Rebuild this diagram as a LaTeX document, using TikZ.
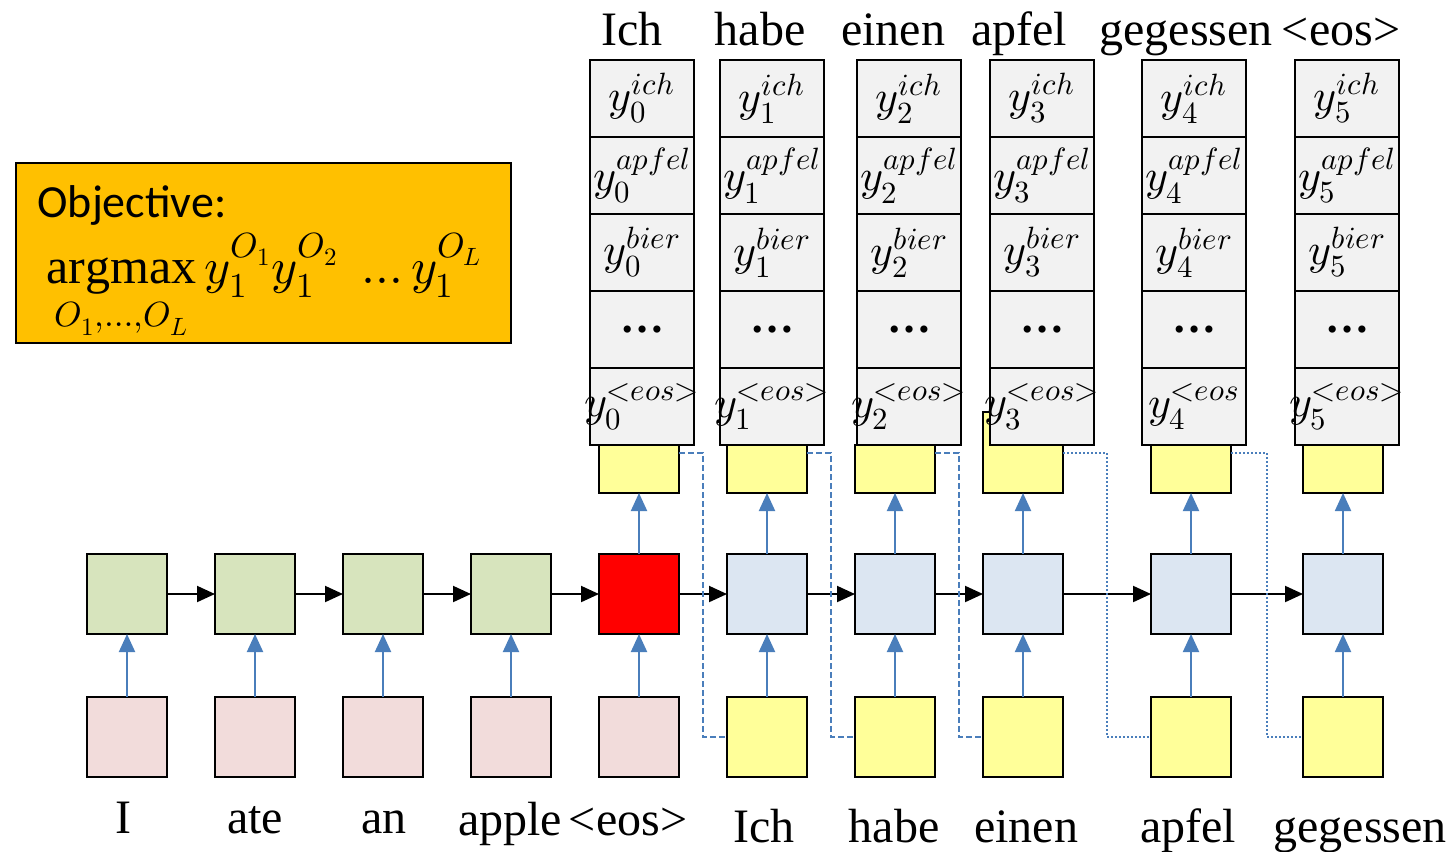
\documentclass[tikz,border=0pt]{standalone}
\usepackage{amsmath}
\usepackage{fontspec}
\usepackage{unicode-math}
\setmainfont{Liberation Serif}
\setmathfont{Latin Modern Math}
\newfontfamily\objfont{Carlito}
\usetikzlibrary{arrows.meta,positioning}
\usepackage{xcolor}
\definecolor{encgreen}{HTML}{D7E4BD}
\definecolor{srcpink}{HTML}{F2DCDB}
\definecolor{decblue}{HTML}{DCE6F2}
\definecolor{tokyellow}{HTML}{FFFF99}
\definecolor{cellgray}{HTML}{F2F2F2}
\definecolor{arrowblue}{HTML}{4A7EBB}
\definecolor{objorange}{HTML}{FFC000}

\begin{document}
\begin{tikzpicture}[x=0.5pt, y=-0.5pt,
  rnnbox/.style={draw, rectangle, line width=1.2pt, minimum width=40pt, minimum height=40pt, inner sep=0pt, outer sep=0pt},
  enc/.style={rnnbox, fill=encgreen},
  src/.style={rnnbox, fill=srcpink},
  dec/.style={rnnbox, fill=decblue},
  tok/.style={rnnbox, fill=tokyellow},
  outbox/.style={rnnbox, fill=tokyellow, minimum height=24pt},
  cell/.style={draw, rectangle, line width=1.2pt, fill=cellgray, minimum width=52pt, minimum height=38.5pt, inner sep=0pt, outer sep=0pt, font=\fontsize{22}{26}\selectfont},
  word/.style={anchor=base, inner sep=0pt, font=\fontsize{24}{28}\selectfont},
  uparrow/.style={draw=arrowblue, line width=1pt, -{Triangle[width=8pt, length=9pt]}},
  hop/.style={line width=1pt, -{Triangle[width=8pt, length=9pt]}},
  feed/.style={draw=arrowblue, line width=1pt, dash pattern=on 3pt off 1.5pt},
  feeddot/.style={draw=arrowblue, line width=1pt, dash pattern=on 1pt off 1pt}]
  \useasboundingbox (0,0) rectangle (1454,851);

  \node[draw, rectangle, line width=1pt, fill=objorange, minimum width=247.5pt, minimum height=90pt, inner sep=0pt] (objbox) at (263.5,253) {};
  \node[anchor=base west, inner sep=0pt, font=\objfont\fontsize{23}{27}\selectfont] (objtitle) at (37,217) {Objective:};
  \node[anchor=base west, inner sep=0pt, font=\fontsize{25}{30}\selectfont] (objformula) at (46,283) {$\displaystyle\operatorname*{argmax}_{O_1,\ldots,O_L} y_1^{O_1} y_1^{O_2}\;\ldots y_1^{O_L}$};

  \node[enc] (enc1) at (127,594) {};
  \node[enc, right=24pt of enc1] (enc2) {};
  \node[enc, right=24pt of enc2] (enc3) {};
  \node[enc, right=24pt of enc3] (enc4) {};
  \node[rnnbox, fill=red, right=24pt of enc4] (encend) {};
  \node[dec, right=24pt of encend] (dec1) {};
  \node[dec, right=24pt of dec1] (dec2) {};
  \node[dec, right=24pt of dec2] (dec3) {};
  \node[dec, right=44pt of dec3] (dec4) {};
  \node[dec, right=36pt of dec4] (dec5) {};

  \node[src, below=31.5pt of enc1] (src1) {};
  \node[src, below=31.5pt of enc2] (src2) {};
  \node[src, below=31.5pt of enc3] (src3) {};
  \node[src, below=31.5pt of enc4] (src4) {};
  \node[src, below=31.5pt of encend] (src5) {};
  \node[tok, below=31.5pt of dec1] (tok1) {};
  \node[tok, below=31.5pt of dec2] (tok2) {};
  \node[tok, below=31.5pt of dec3] (tok3) {};
  \node[tok, below=31.5pt of dec4] (tok4) {};
  \node[tok, below=31.5pt of dec5] (tok5) {};

  \node[outbox, above=30.5pt of encend] (out0) {};
  \node[outbox, above=30.5pt of dec1] (out1) {};
  \node[outbox, above=30.5pt of dec2] (out2) {};
  \node[outbox, minimum height=40.5pt, above=30.5pt of dec3] (out3) {};
  \node[outbox, above=30.5pt of dec4] (out4) {};
  \node[outbox, above=30.5pt of dec5] (out5) {};

  \node[cell] (ich0) at (642,98.5) {$y_0^{ich}$};
  \node[cell, below=0pt of ich0] (apfel0) {\makebox[0pt]{$y_0^{apfel}$}};
  \node[cell, below=0pt of apfel0] (bier0) {$y_0^{bier}$};
  \node[cell, below=0pt of bier0] (dots0) {\textbf{\dots}};
  \node[cell, below=0pt of dots0] (eos0) {\makebox[0pt]{$y_0^{<eos>}$}};

  \node[cell] (ich1) at (772,98.5) {$y_1^{ich}$};
  \node[cell, below=0pt of ich1] (apfel1) {\makebox[0pt]{$y_1^{apfel}$}};
  \node[cell, below=0pt of apfel1] (bier1) {$y_1^{bier}$};
  \node[cell, below=0pt of bier1] (dots1) {\textbf{\dots}};
  \node[cell, below=0pt of dots1] (eos1) {\makebox[0pt]{$y_1^{<eos>}$}};

  \node[cell] (ich2) at (909,98.5) {$y_2^{ich}$};
  \node[cell, below=0pt of ich2] (apfel2) {\makebox[0pt]{$y_2^{apfel}$}};
  \node[cell, below=0pt of apfel2] (bier2) {$y_2^{bier}$};
  \node[cell, below=0pt of bier2] (dots2) {\textbf{\dots}};
  \node[cell, below=0pt of dots2] (eos2) {\makebox[0pt]{$y_2^{<eos>}$}};

  \node[cell] (ich3) at (1042,98.5) {$y_3^{ich}$};
  \node[cell, below=0pt of ich3] (apfel3) {\makebox[0pt]{$y_3^{apfel}$}};
  \node[cell, below=0pt of apfel3] (bier3) {$y_3^{bier}$};
  \node[cell, below=0pt of bier3] (dots3) {\textbf{\dots}};
  \node[cell, below=0pt of dots3] (eos3) {\makebox[0pt]{$y_3^{<eos>}$}};

  \node[cell] (ich4) at (1194,98.5) {$y_4^{ich}$};
  \node[cell, below=0pt of ich4] (apfel4) {\makebox[0pt]{$y_4^{apfel}$}};
  \node[cell, below=0pt of apfel4] (bier4) {$y_4^{bier}$};
  \node[cell, below=0pt of bier4] (dots4) {\textbf{\dots}};
  \node[cell, below=0pt of dots4] (eos4) {\makebox[0pt]{$y_4^{<eos}$}};

  \node[cell] (ich5) at (1347,98.5) {$y_5^{ich}$};
  \node[cell, below=0pt of ich5] (apfel5) {\makebox[0pt]{$y_5^{apfel}$}};
  \node[cell, below=0pt of apfel5] (bier5) {$y_5^{bier}$};
  \node[cell, below=0pt of bier5] (dots5) {\textbf{\dots}};
  \node[cell, below=0pt of dots5] (eos5) {\makebox[0pt]{$y_5^{<eos>}$}};

  \node[word] (top-ich) at (632,45) {Ich};
  \node[word] (top-habe) at (760,45) {habe};
  \node[word] (top-einen) at (893,45) {einen};
  \node[word] (top-apfel) at (1019,45) {apfel};
  \node[word] (top-gegessen) at (1186,45) {gegessen};
  \node[word] (top-eos) at (1341,45) {<eos>};

  \node[word] (lbl-i) at (123,833) {I};
  \node[word] (lbl-ate) at (255,833) {ate};
  \node[word] (lbl-an) at (384,833) {an};
  \node[word] (lbl-apple) at (510,835) {apple};
  \node[word] (lbl-eos) at (628,835) {<eos>};
  \node[word] (lbl-ich) at (764,842) {Ich};
  \node[word] (lbl-habe) at (894,842) {habe};
  \node[word] (lbl-einen) at (1026,842) {einen};
  \node[word] (lbl-apfel) at (1188,842) {apfel};
  \node[word] (lbl-gegessen) at (1360,842) {gegessen};

  \draw[hop] (enc1) -- (enc2);
  \draw[hop] (enc2) -- (enc3);
  \draw[hop] (enc3) -- (enc4);
  \draw[hop] (enc4) -- (encend);
  \draw[hop] (encend) -- (dec1);
  \draw[hop] (dec1) -- (dec2);
  \draw[hop] (dec2) -- (dec3);
  \draw[hop] (dec3) -- (dec4);
  \draw[hop] (dec4) -- (dec5);

  \draw[uparrow] (src1) -- (enc1);
  \draw[uparrow] (src2) -- (enc2);
  \draw[uparrow] (src3) -- (enc3);
  \draw[uparrow] (src4) -- (enc4);
  \draw[uparrow] (src5) -- (encend);
  \draw[uparrow] (tok1) -- (dec1);
  \draw[uparrow] (tok2) -- (dec2);
  \draw[uparrow] (tok3) -- (dec3);
  \draw[uparrow] (tok4) -- (dec4);
  \draw[uparrow] (tok5) -- (dec5);
  \draw[uparrow] (encend) -- (out0);
  \draw[uparrow] (dec1) -- (out1);
  \draw[uparrow] (dec2) -- (out2);
  \draw[uparrow] (dec3) -- (out3);
  \draw[uparrow] (dec4) -- (out4);
  \draw[uparrow] (dec5) -- (out5);

  \draw[feed] ([yshift=20pt]out0.south east) -| ([xshift=-12pt]tok1.west) -- (tok1.west);
  \draw[feed] ([yshift=20pt]out1.south east) -| ([xshift=-12pt]tok2.west) -- (tok2.west);
  \draw[feed] ([yshift=20pt]out2.south east) -| ([xshift=-12pt]tok3.west) -- (tok3.west);
  \draw[feeddot] ([yshift=20pt]out3.south east) -| ([xshift=-22pt]tok4.west) -- (tok4.west);
  \draw[feeddot] ([yshift=20pt]out4.south east) -| ([xshift=-18pt]tok5.west) -- (tok5.west);
\end{tikzpicture}
\end{document}
